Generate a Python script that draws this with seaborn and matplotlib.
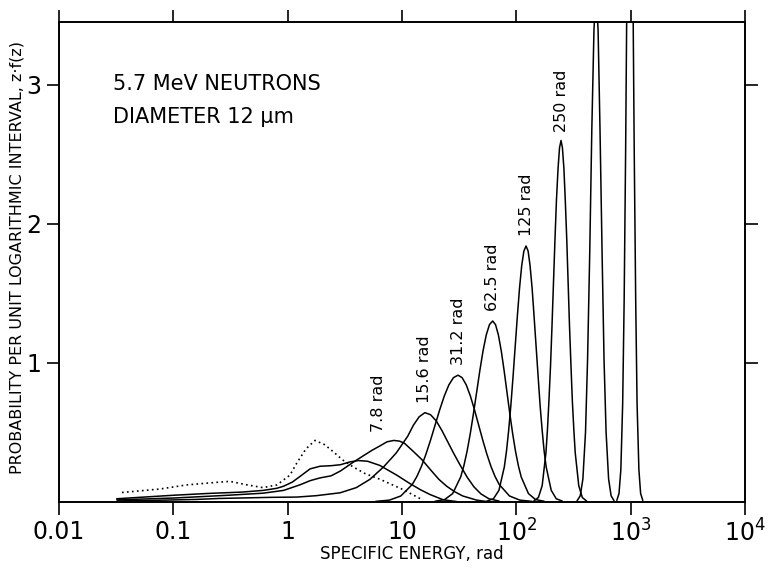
import numpy as np
import matplotlib
matplotlib.use("Agg")
import matplotlib.pyplot as plt
from matplotlib.ticker import NullLocator
import seaborn as sns

# values: log10 of specific energy (rad) and z*f(z)
lz_single = [-1.449, -1.117, -0.880, -0.592, -0.504, -0.356, -0.216, -0.093, 0.020, 0.082,
             0.161, 0.239, 0.322, 0.397, 0.480, 0.571, 0.680, 0.808, 1.009, 1.184]
y_single = [0.065, 0.09, 0.12, 0.14, 0.145, 0.12, 0.10, 0.12, 0.19, 0.28,
            0.38, 0.44, 0.41, 0.36, 0.30, 0.25, 0.20, 0.16, 0.086, 0.01]

lz_3_9 = [-1.495, -1.0, -0.699, -0.398, -0.215, -0.097, -0.036, 0.041, 0.107, 0.196, 0.283, 0.380,
          0.462, 0.544, 0.618, 0.699, 0.806, 0.954, 1.068, 1.161, 1.246, 1.362, 1.477]
y_3_9 = [0.02, 0.045, 0.058, 0.068, 0.08, 0.095, 0.11, 0.14, 0.18, 0.235, 0.254, 0.258,
         0.265, 0.285, 0.295, 0.29, 0.26, 0.19, 0.13, 0.085, 0.05, 0.012, 0.0]

lz_7_8 = [-1.495, -1.0, -0.523, -0.215, -0.036, 0.107, 0.196, 0.283, 0.380, 0.462, 0.568, 0.663,
          0.740, 0.806, 0.869, 0.929, 0.978, 1.021, 1.100, 1.176, 1.248, 1.322, 1.391, 1.462,
          1.531, 1.653, 1.740]
y_7_8 = [0.012, 0.025, 0.045, 0.06, 0.08, 0.12, 0.15, 0.17, 0.185, 0.22, 0.28, 0.33,
         0.37, 0.40, 0.43, 0.44, 0.435, 0.42, 0.36, 0.30, 0.23, 0.16, 0.11, 0.07,
         0.04, 0.01, 0.0]

lz_15_6 = [-1.49, -1.2, -0.8, -0.6, -0.15, 0.08, 0.25, 0.46, 0.60, 0.72, 0.84, 0.95, 1.05, 1.10,
           1.15, 1.20, 1.25, 1.30, 1.35, 1.40, 1.45, 1.51, 1.57, 1.63, 1.69, 1.76, 1.85]
y_15_6 = [0.004, 0.008, 0.015, 0.022, 0.03, 0.032, 0.042, 0.063, 0.10, 0.16, 0.25, 0.35, 0.47, 0.55,
          0.61, 0.64, 0.625, 0.58, 0.51, 0.43, 0.35, 0.26, 0.175, 0.105, 0.055, 0.02, 0.003]

lz_31_2 = [0.770, 0.890, 0.990, 1.090, 1.130, 1.170, 1.210, 1.250, 1.290, 1.330, 1.370, 1.410,
           1.450, 1.490, 1.526, 1.562, 1.598, 1.634, 1.670, 1.706, 1.742, 1.778, 1.814, 1.850,
           1.940, 2.030, 2.138]
y_31_2 = [0.001, 0.010, 0.040, 0.123, 0.180, 0.253, 0.342, 0.443, 0.552, 0.661, 0.760, 0.840,
          0.892, 0.91, 0.892, 0.840, 0.760, 0.661, 0.552, 0.443, 0.342, 0.253, 0.180, 0.123,
          0.040, 0.010, 0.001]

lz_62_5 = [1.289, 1.373, 1.443, 1.513, 1.541, 1.569, 1.597, 1.625, 1.653, 1.681, 1.709, 1.737,
           1.765, 1.793, 1.818, 1.843, 1.868, 1.893, 1.918, 1.943, 1.968, 1.993, 2.018, 2.043,
           2.106, 2.168, 2.243]
y_62_5 = [0.002, 0.014, 0.057, 0.176, 0.257, 0.361, 0.488, 0.633, 0.788, 0.944, 1.086, 1.200,
          1.274, 1.30, 1.274, 1.200, 1.086, 0.944, 0.788, 0.633, 0.488, 0.361, 0.257, 0.176,
          0.057, 0.014, 0.002]

lz_125 = [1.743, 1.800, 1.848, 1.895, 1.914, 1.933, 1.952, 1.971, 1.990, 2.009, 2.028, 2.047,
          2.066, 2.085, 2.103, 2.120, 2.138, 2.155, 2.173, 2.191, 2.208, 2.226, 2.243, 2.261,
          2.305, 2.349, 2.402]
y_125 = [0.003, 0.020, 0.081, 0.249, 0.364, 0.512, 0.691, 0.896, 1.116, 1.336, 1.537, 1.699,
         1.804, 1.84, 1.804, 1.699, 1.537, 1.336, 1.116, 0.896, 0.691, 0.512, 0.364, 0.249,
         0.081, 0.020, 0.003]

lz_250 = [2.153, 2.193, 2.226, 2.259, 2.272, 2.285, 2.299, 2.312, 2.325, 2.338, 2.351, 2.365,
          2.378, 2.391, 2.403, 2.416, 2.428, 2.441, 2.453, 2.465, 2.478, 2.490, 2.503, 2.515,
          2.546, 2.577, 2.614]
y_250 = [0.004, 0.029, 0.114, 0.352, 0.515, 0.723, 0.976, 1.266, 1.577, 1.888, 2.172, 2.400,
         2.549, 2.60, 2.549, 2.400, 2.172, 1.888, 1.577, 1.266, 0.976, 0.723, 0.515, 0.352,
         0.114, 0.029, 0.004]

lz_500 = [2.531, 2.559, 2.582, 2.605, 2.623, 2.642, 2.660, 2.679, 2.697,
          2.715, 2.732, 2.750, 2.767, 2.785, 2.807, 2.829, 2.855]
y_500 = [0.005, 0.041, 0.162, 0.498, 1.023, 1.791, 2.672, 3.397, 3.68,
         3.397, 2.672, 1.791, 1.023, 0.498, 0.162, 0.041, 0.005]

lz_1000 = [2.879, 2.898, 2.914, 2.930, 2.943, 2.956, 2.968, 2.981, 2.994,
           3.006, 3.019, 3.031, 3.044, 3.056, 3.072, 3.087, 3.106]
y_1000 = [0.008, 0.058, 0.228, 0.704, 1.446, 2.531, 3.776, 4.800, 5.2,
          4.800, 3.776, 2.531, 1.446, 0.704, 0.228, 0.058, 0.008]

# label text (None = unlabelled) and label offset in points
curvas = [
    (lz_3_9, y_3_9, None, (0, 0)),
    (lz_7_8, y_7_8, "7.8 rad", (-11, 6)),
    (lz_15_6, y_15_6, "15.6 rad", (0, 7)),
    (lz_31_2, y_31_2, "31.2 rad", (0, 7)),
    (lz_62_5, y_62_5, "62.5 rad", (0, 7)),
    (lz_125, y_125, "125 rad", (0, 7)),
    (lz_250, y_250, "250 rad", (0, 6)),
    (lz_500, y_500, None, (0, 0)),
    (lz_1000, y_1000, None, (0, 0)),
]

xticks = [0.01, 0.1, 1, 10, 100, 1000, 10000]
xticklabels = ["0.01", "0.1", "1", "10", r"$\mathregular{10^2}$", r"$\mathregular{10^3}$",
               r"$\mathregular{10^4}$"]
yticks = [1, 2, 3]

sns.set_theme(style="ticks")
plt.rcParams["font.family"] = ["DejaVu Sans"]
plt.rcParams["text.color"] = "black"
plt.rcParams["axes.labelcolor"] = "black"

fig, ax = plt.subplots(figsize=(7.69, 5.69), dpi=100)
fig.subplots_adjust(left=0.0767, right=0.9688, bottom=0.1186, top=0.9605)

# single event distribution (dotted)
sns.lineplot(x=10 ** np.array(lz_single), y=y_single, ax=ax, color="black",
             lw=1.2, linestyle=(0, (1, 2)), estimator=None, sort=False)

for lz, y, etiqueta, off in curvas:
    z = 10 ** np.array(lz)
    sns.lineplot(x=z, y=y, ax=ax, color="black", lw=1.1, estimator=None, sort=False)
    if etiqueta:
        i = int(np.argmax(y))
        ax.annotate(etiqueta, (z[i], y[i]), xytext=off, textcoords="offset points",
                    rotation=90, ha="center", va="bottom", fontsize=11.5, color="black")

ax.set_xscale("log")
ax.set_xlim(0.01, 1e4)
ax.set_ylim(0, 3.45)
ax.set_xticks(xticks)
ax.set_xticklabels(xticklabels)
ax.xaxis.set_minor_locator(NullLocator())
ax.set_yticks(yticks)
ax.tick_params(which="major", direction="out", length=9, width=1.2, colors="black",
               top=True, right=True, labelsize=17, pad=4)

for s in ax.spines.values():
    s.set_linewidth(1.4)
    s.set_color("black")

ax.text(0.079, 0.872, "5.7 MeV NEUTRONS", transform=ax.transAxes, fontsize=15, va="center")
ax.text(0.079, 0.803, "DIAMETER 12 μm", transform=ax.transAxes, fontsize=15, va="center")

ax.set_xlabel("SPECIFIC ENERGY, rad", fontsize=12)
ax.set_ylabel("PROBABILITY PER UNIT LOGARITHMIC INTERVAL, z·f(z)", fontsize=11.5)
ax.xaxis.set_label_coords(0.515, -0.091)
ax.yaxis.set_label_coords(-0.05, 0.51)

fig.savefig("out.png", dpi=100, facecolor="white")
